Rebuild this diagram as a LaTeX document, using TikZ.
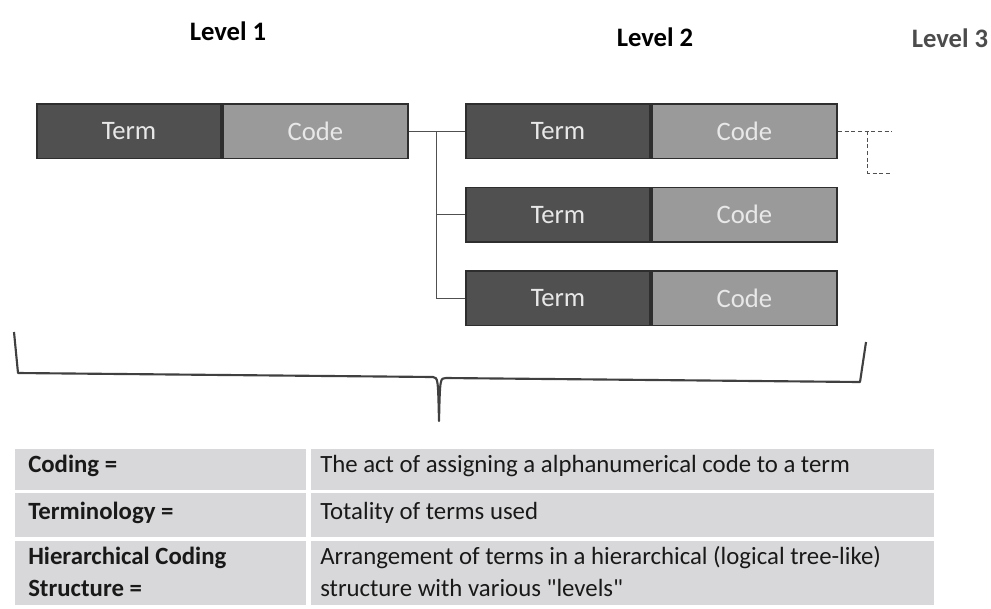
\documentclass[tikz,border=0pt]{standalone}
\usepackage{fontspec}
\setmainfont{Carlito}
\newfontfamily\straightq{Carlito}[Ligatures=ResetAll]
\usetikzlibrary{positioning}
\definecolor{termgray}{HTML}{505050}
\definecolor{codegray}{HTML}{9A9A9A}
\definecolor{edgegray}{HTML}{2E2E2E}
\definecolor{boxtext}{HTML}{E8E8E8}
\definecolor{cellgray}{HTML}{D8D8DA}
\definecolor{linegray}{HTML}{505050}
\begin{document}
\begin{tikzpicture}[x=0.75pt, y=-0.75pt,
    termbox/.style={draw=edgegray, line width=1.2pt, fill=termgray, text=boxtext,
      minimum width=138.3pt, minimum height=41pt, inner sep=0pt,
      font=\fontsize{20}{24}\selectfont},
    codebox/.style={termbox, fill=codegray, minimum width=139pt},
    levellabel/.style={font=\fontsize{20}{24}\selectfont\bfseries, inner sep=0pt},
    celltext/.style={anchor=base west, inner sep=0pt, text=black!90,
      font=\fontsize{18.6}{22}\selectfont},
    fork/.style={draw=linegray, line width=0.8pt}]
    \useasboundingbox (0,0) rectangle (991,608);
    % Rotulos dos niveis
    \node[levellabel, anchor=base] (lvl1) at (228,40) {Level 1};
    \node[levellabel, anchor=base] (lvl2) at (655,46) {Level 2};
    \node[levellabel, anchor=base, text=black!70] (lvl3) at (950,47) {Level 3};
    % Nivel 1
    \node[termbox, anchor=north west] (term1) at (36,103) {Term};
    \node[codebox, right=0pt of term1] (code1) {Code};
    % Nivel 2
    \node[termbox, anchor=north west] (term2a) at (465,103) {Term};
    \node[codebox, right=0pt of term2a] (code2a) {Code};
    \node[termbox, below=20.5pt of term2a] (term2b) {Term};
    \node[codebox, right=0pt of term2b] (code2b) {Code};
    \node[termbox, below=20.5pt of term2b] (term2c) {Term};
    \node[codebox, right=0pt of term2c] (code2c) {Code};
    % Ligacoes
    \draw[fork] (code1.east) -- (term2a.west);
    \draw[fork] (code1.east) -- ++(21pt,0) coordinate (split) |- (term2c.west);
    \draw[fork] (split) |- (term2b.west);
    % Nivel 3 (tracejado)
    \draw[fork, dash pattern=on 3pt off 2pt] (code2a.east) -- ++(40.5pt,0) coordinate (lvl3a);
    \draw[fork, dash pattern=on 3pt off 2pt] ([xshift=22.5pt]code2a.east) |- ++(18pt,-31.5pt) coordinate (lvl3b);
    % Chave
    \draw[draw=black!75, line width=1.6pt, line join=round]
      (14,332) -- (18,373) -- (433,377) .. controls (438,378) .. (439,421)
      .. controls (440,378) .. (446,378) -- (860,382) -- (866,342);
    % Tabela
    \foreach \ya/\yb in {449/490, 493/537, 541/605} {
      \fill[cellgray] (15,\ya) rectangle (306,\yb);
      \fill[cellgray] (311,\ya) rectangle (934,\yb);
    }
    \node[celltext] (def1) at (28,472) {\bfseries Coding =};
    \node[celltext] (txt1) at (320,472) {The act of assigning a alphanumerical code to a term};
    \node[celltext] (def2) at (28,519) {\bfseries Terminology =};
    \node[celltext] (txt2) at (320,519) {Totality of terms used};
    \node[celltext] (def3a) at (28,564) {\bfseries Hierarchical Coding};
    \node[celltext] (def3b) at (28,596) {\bfseries Structure =};
    \node[celltext] (txt3a) at (320,564) {Arrangement of terms in a hierarchical (logical tree-like)};
    \node[celltext] (txt3b) at (320,596) {structure with various {\straightq"}levels{\straightq"}};
\end{tikzpicture}
\end{document}
